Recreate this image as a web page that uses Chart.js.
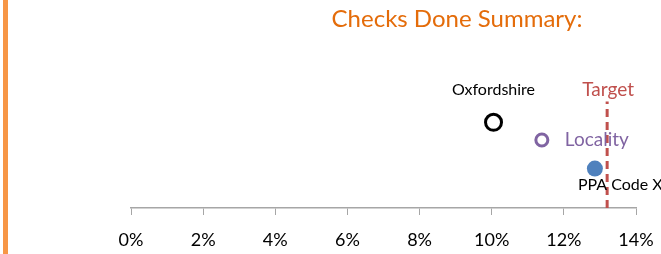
<!DOCTYPE html>
<html>
<head>
<meta charset="utf-8">
<script src="https://cdn.jsdelivr.net/npm/chart.js@4"></script>
<style>
  body { margin: 0; background: #fff; }
  #wrap { position: relative; width: 661px; height: 254px; overflow: hidden; }
  #bar { position: absolute; left: 3px; top: 0; width: 5px; height: 254px; background: #F79646; }
  canvas { position: absolute; left: 0; top: 0; }
</style>
</head>
<body>
<div id="wrap">
  <div id="bar"></div>
  <canvas id="chart" width="661" height="254"></canvas>
</div>
<script>
const chartTitle = "Checks Done Summary:";
const seriesNames = ["Oxfordshire", "Locality", "PPA Code X"];
const seriesX = [0.1005, 0.1139, 0.1286];
const seriesY = [4.35, 3.45, 2.0];
const targetX = 0.132;
const targetTop = 5.4;
const xTicks = [0, 0.02, 0.04, 0.06, 0.08, 0.10, 0.12, 0.14];

const FONT = "Lato, 'Open Sans', sans-serif";

// labels next to each point, plus the title
const labelPlugin = {
  id: "pointLabels",
  afterDatasetsDraw(chart) {
    const ctx = chart.ctx;
    const styles = [
      { color: "#000", size: 16, dx: 0, dy: -32, align: "center" },
      { color: "#8064A2", size: 19, dx: 23, dy: 0, align: "left" },
      { color: "#000", size: 16, dx: -17, dy: 16, align: "left" }
    ];
    ctx.save();
    ctx.textBaseline = "middle";
    seriesNames.forEach((name, i) => {
      const pt = chart.getDatasetMeta(i).data[0];
      const s = styles[i];
      ctx.font = s.size + "px " + FONT;
      ctx.fillStyle = s.color;
      ctx.textAlign = s.align;
      ctx.fillText(name, pt.x + s.dx, pt.y + s.dy);
    });
    const tMeta = chart.getDatasetMeta(3).data[1];
    ctx.font = "19px " + FONT;
    ctx.fillStyle = "#C0504D";
    ctx.textAlign = "center";
    ctx.fillText("Target", tMeta.x + 1, tMeta.y - 12);

    ctx.font = "24px " + FONT;
    ctx.fillStyle = "#E46C0A";
    ctx.textAlign = "center";
    ctx.fillText(chartTitle, 457, 19);
    ctx.restore();
  }
};

new Chart(document.getElementById("chart"), {
  type: "scatter",
  data: {
    datasets: [
      {
        label: seriesNames[0],
        data: [{ x: seriesX[0], y: seriesY[0] }],
        pointRadius: 8,
        pointBorderWidth: 3,
        pointBorderColor: "#000",
        pointBackgroundColor: "#fff"
      },
      {
        label: seriesNames[1],
        data: [{ x: seriesX[1], y: seriesY[1] }],
        pointRadius: 6,
        pointBorderWidth: 3,
        pointBorderColor: "#8064A2",
        pointBackgroundColor: "#fff"
      },
      {
        label: seriesNames[2],
        data: [{ x: seriesX[2], y: seriesY[2] }],
        pointRadius: 8,
        pointBorderWidth: 0,
        pointBackgroundColor: "#4F81BD"
      },
      {
        label: "Target",
        type: "line",
        data: [{ x: targetX, y: 0 }, { x: targetX, y: targetTop }],
        borderColor: "#C0504D",
        borderWidth: 3,
        borderDash: [8, 5],
        pointRadius: 0,
        fill: false
      }
    ]
  },
  options: {
    responsive: false,
    animation: false,
    layout: { padding: { left: 131, right: 25, top: 8, bottom: 0 } },
    plugins: {
      legend: { display: false },
      tooltip: { enabled: false }
    },
    scales: {
      x: {
        type: "linear",
        min: 0,
        max: 0.14,
        afterBuildTicks: axis => { axis.ticks = xTicks.map(v => ({ value: v })); },
        // fix the axis band height and stop it eating into the side padding
        afterFit: axis => {
          axis.height = 46;
          axis.paddingLeft = 0;
          axis.paddingRight = 0;
        },
        grid: { drawOnChartArea: false, color: "#A6A6A6", tickLength: 7 },
        border: { color: "#A6A6A6", width: 1.5 },
        ticks: {
          color: "#000",
          padding: 14,
          maxRotation: 0,
          font: { family: FONT, size: 18 },
          callback: v => Math.round(v * 100) + "%"
        }
      },
      y: {
        display: false,
        min: 0,
        max: 10
      }
    }
  },
  plugins: [labelPlugin]
});
</script>
</body>
</html>
